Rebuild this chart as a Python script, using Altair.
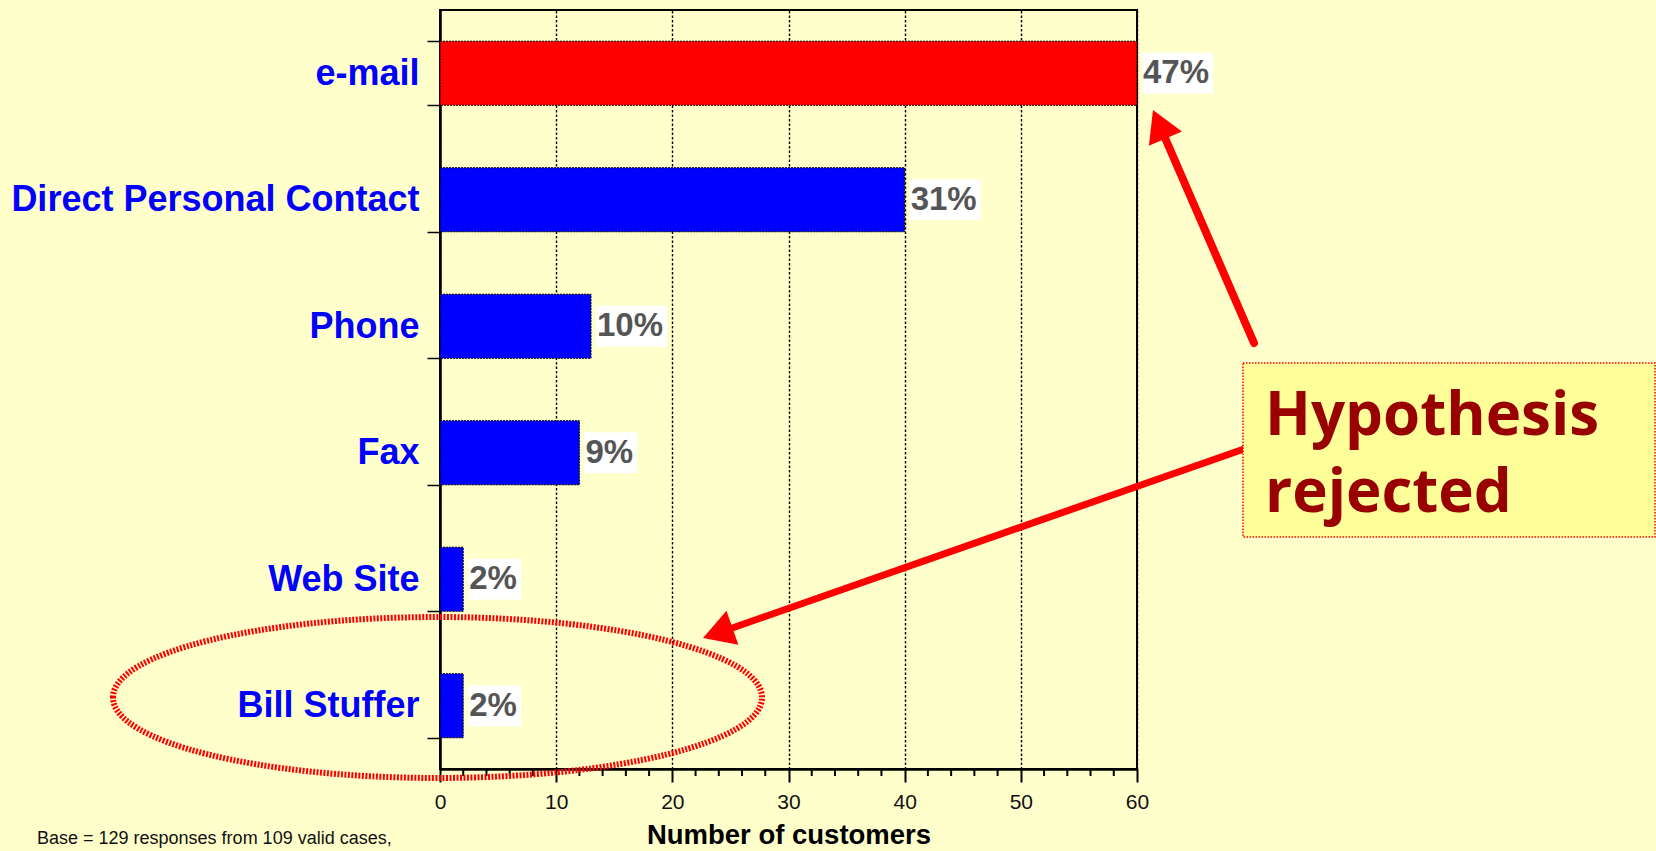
import altair as alt
import pandas as pd

# ---- survey data -------------------------------------------------------
CATEGORIES = ["e-mail", "Direct Personal Contact", "Phone", "Fax", "Web Site", "Bill Stuffer"]
CUSTOMERS = [60, 40, 13, 12, 2, 2]
BAR_COLORS = ["#FF0000", "#0000FF", "#0000FF", "#0000FF", "#0000FF", "#0000FF"]
BASE_RESPONSES = 129
X_TICKS = [0, 10, 20, 30, 40, 50, 60]
MINOR_STEP = 2
NOTE = "Base = 129 responses from 109 valid cases,"
CALLOUT = ["Hypothesis", "rejected"]

# ---- layout -------------------------------------------------------------
PLOT_W, PLOT_H = 697, 759
X_MAX = 60
PX_PER_UNIT = PLOT_W / X_MAX
PCT_SIZE = 33
BG = "#FFFFCC"
ARIAL = "Liberation Sans"

df = pd.DataFrame({"channel": CATEGORIES, "customers": CUSTOMERS, "fillc": BAR_COLORS})

x_scale = alt.Scale(domain=[0, X_MAX], nice=False, zero=True)
y_scale = alt.Scale(paddingInner=0.494, paddingOuter=0.247)

x_axis = alt.Axis(
    values=X_TICKS, title="Number of customers", grid=True, gridColor="black",
    gridDash=[2.5, 2], gridWidth=1.4, domainColor="black", domainWidth=2.5,
    tickColor="black", tickWidth=2, tickSize=13, labelFont=ARIAL,
    labelFontSize=21, labelColor="#111111", labelPadding=9, labelFlush=False,
    titleFont=ARIAL, titleFontSize=27.5, titleFontWeight="bold", titleColor="black",
    titlePadding=9,
)
y_axis = alt.Axis(
    title=None, domainColor="black", domainWidth=2.5, ticks=True, tickBand="extent",
    tickSize=13, tickColor="black", tickWidth=1.5, labelFont=ARIAL, labelFontSize=36,
    labelFontWeight="bold", labelColor="#0000FF", labelPadding=8, labelLimit=0, grid=False,
)

base = alt.Chart(df).transform_calculate(
    pct=f"round(datum.customers / {BASE_RESPONSES} * 100) + '%'"
).transform_calculate(
    box_w=f"(0.556 * (length(datum.pct) - 1) + 0.889) * {PCT_SIZE} + 5"
).transform_calculate(
    box_x0=f"datum.customers + 5 / {PX_PER_UNIT}",
    box_x1=f"datum.customers + (5 + datum.box_w) / {PX_PER_UNIT}",
)

y_enc = alt.Y("channel:N", sort=CATEGORIES, scale=y_scale, axis=y_axis)

bars = base.mark_bar(stroke="black", strokeWidth=1, strokeDash=[2, 1]).encode(
    x=alt.X("customers:Q", scale=x_scale, axis=x_axis),
    y=y_enc,
    fill=alt.Fill("fillc:N", scale=None),
)

label_boxes = base.mark_bar(height=41, color="white").encode(
    x=alt.X("box_x0:Q", scale=x_scale, axis=x_axis),
    x2="box_x1:Q",
    y=y_enc,
)

labels = base.mark_text(
    align="left", baseline="middle", dx=6, font=ARIAL, fontSize=PCT_SIZE,
    fontWeight="bold", color="#555555",
).encode(
    x=alt.X("customers:Q", scale=x_scale, axis=x_axis),
    y=y_enc,
    text="pct:N",
)

# minor ticks between the labelled ones
minor = alt.Chart(alt.sequence(0, X_MAX + 1, MINOR_STEP, as_="v")).transform_filter(
    "datum.v % 10 != 0"
).mark_rule(color="black", strokeWidth=2).encode(
    x=alt.X("v:Q", scale=x_scale, axis=x_axis),
    y=alt.value(PLOT_H),
    y2=alt.value(PLOT_H + 7),
)

# ---- annotations (pixel positions inside the plot frame) ----------------
one = alt.Data(values=[{"k": 1}])
RED = "#FF0000"

ellipse_path = (
    "M-1,0 C-1,-0.137 -0.552,-0.248 0,-0.248 C0.552,-0.248 1,-0.137 1,0 "
    "C1,0.137 0.552,0.248 0,0.248 C-0.552,0.248 -1,0.137 -1,0 Z"
)
ellipse = alt.Chart(one).mark_point(
    shape=ellipse_path, size=649 ** 2, filled=False, stroke=RED, strokeWidth=6,
    strokeDash=[2, 1.5], opacity=1,
).encode(x=alt.value(-2.5), y=alt.value(687.5))

shaft1 = alt.Chart(one).mark_rule(color=RED, strokeWidth=8, strokeCap="round").encode(
    x=alt.value(814), y=alt.value(333), x2=alt.value(719), y2=alt.value(114)
)
head1 = alt.Chart(one).mark_point(
    shape="triangle-up", filled=True, size=1296, angle=336.5, color=RED, opacity=1
).encode(x=alt.value(719.2), y=alt.value(114.3))

shaft2 = alt.Chart(one).mark_rule(color=RED, strokeWidth=7, strokeCap="round").encode(
    x=alt.value(804), y=alt.value(439), x2=alt.value(278), y2=alt.value(623)
)
head2 = alt.Chart(one).mark_point(
    shape="triangle-up", filled=True, size=1296, angle=250.7, color=RED, opacity=1
).encode(x=alt.value(277.7), y=alt.value(622.9))

callout_box = alt.Chart(one).mark_rect(
    fill="#FFFF99", stroke=RED, strokeWidth=1.5, strokeDash=[1.5, 1.5]
).encode(x=alt.value(803), x2=alt.value(1215), y=alt.value(353), y2=alt.value(527))

callout_style = dict(
    align="left", baseline="alphabetic", font="Open Sans", fontSize=60,
    fontWeight="bold", color="#990000",
)
callout1 = alt.Chart(one).mark_text(text=CALLOUT[0], **callout_style).encode(
    x=alt.value(825), y=alt.value(425)
)
callout2 = alt.Chart(one).mark_text(text=CALLOUT[1], **callout_style).encode(
    x=alt.value(825), y=alt.value(502)
)

note = alt.Chart(one).mark_text(
    text=NOTE, align="left", baseline="alphabetic", font=ARIAL, fontSize=18, color="#111111"
).encode(x=alt.value(-403), y=alt.value(834))

chart = alt.layer(
    bars, label_boxes, labels, minor, ellipse, shaft1, head1, shaft2, head2,
    callout_box, callout1, callout2, note,
).properties(
    width=PLOT_W,
    height=PLOT_H,
    padding={"left": 440, "top": 10, "right": 519, "bottom": 82},
    autosize=alt.AutoSizeParams(type="none"),
    background=BG,
).configure_view(
    stroke="black", strokeWidth=2, fill=BG
)

chart.save("out.html", embed_options={"renderer": "svg", "actions": False})
